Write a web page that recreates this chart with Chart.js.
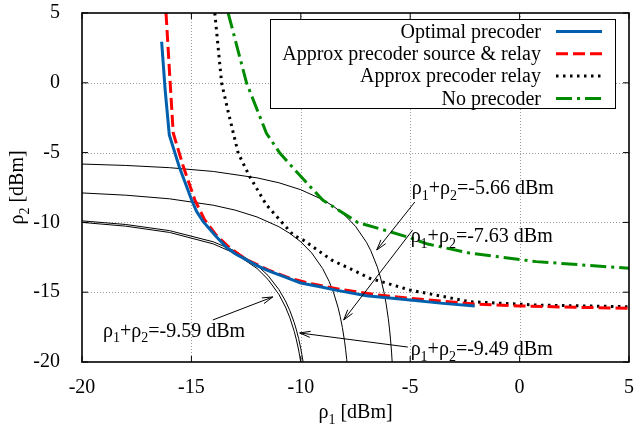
<!DOCTYPE html>
<html><head><meta charset="utf-8">
<script src="https://cdn.jsdelivr.net/npm/chart.js@4/dist/chart.umd.min.js"></script>
<style>html,body{margin:0;padding:0;background:#fff}canvas{display:block}</style>
</head><body>
<canvas id="c" width="637" height="429"></canvas>
<script>
// ---- data ----
const xTicks = [-20, -15, -10, -5, 0, 5];
const yTicks = [-20, -15, -10, -5, 0, 5];

const seriesLabels = ['Optimal precoder', 'Approx precoder source & relay', 'Approx precoder relay', 'No precoder'];

const optX = [-16.36, -16.2, -16.01, -15.56, -14.99, -14.76, -14.46, -13.9, -13.39, -13.0, -12.0, -11.5, -10.5, -10.0, -9.0, -8.4, -7.0, -5.0, -3.5, -2.05];
const optY = [2.94, -0.5, -3.74, -6.0, -8.4, -9.23, -9.95, -10.95, -11.8, -12.25, -13.1, -13.45, -14.05, -14.34, -14.65, -14.85, -15.25, -15.56, -15.8, -15.99];

const srX = [-16.16, -15.99, -15.83, -15.37, -14.84, -14.4, -13.9, -13.3, -12.5, -11.5, -10.5, -9.5, -8.0, -6.5, -5.0, -2.0, 0, 2.5, 5];
const srY = [5, 0.5, -3.6, -6.0, -8.4, -9.8, -10.85, -11.75, -12.65, -13.4, -14.0, -14.4, -14.85, -15.2, -15.44, -15.85, -15.98, -16.08, -16.15];

const relX = [-13.93, -13.62, -13.32, -12.86, -12.33, -11.57, -11.0, -10.35, -9.89, -8.6, -7.5, -6.85, -5.02, -2.28, 0.76, 5];
const relY = [5, 0, -2.07, -5.05, -6.73, -8.75, -9.75, -10.9, -11.26, -12.69, -13.5, -14.0, -14.84, -15.68, -15.92, -16.04];

const noX = [-13.32, -12.48, -11.57, -10.95, -10.12, -9.0, -7.4, -6.3, -5.0, -4.2, -2.28, 0.76, 5];
const noY = [5, 0, -3.62, -5.05, -6.5, -8.4, -10.0, -10.5, -11.1, -11.55, -12.2, -12.81, -13.29];

// iso sum-power curves
const c566X = [-20, -18, -16, -14, -12, -11, -10, -9, -8.5, -8, -7.5, -7, -6.8, -6.5, -6.35, -6.2, -6.1, -6.0, -5.95, -5.9, -5.85, -5.82];
const c566Y = [-5.82, -5.92, -6.08, -6.35, -6.81, -7.16, -7.66, -8.37, -8.85, -9.47, -10.28, -11.42, -12.03, -13.21, -13.99, -14.99, -15.83, -16.9, -17.57, -18.36, -19.35, -20.1];
const c763X = [-20, -18, -16, -14, -13, -12, -11, -10.5, -10, -9.5, -9, -8.7, -8.5, -8.3, -8.2, -8.1, -8.0, -7.95, -7.9, -7.87];
const c763Y = [-7.89, -8.05, -8.31, -8.77, -9.12, -9.61, -10.31, -10.79, -11.39, -12.19, -13.31, -14.24, -15.04, -16.08, -16.73, -17.52, -18.51, -19.12, -19.83, -20.3];
const c949X = [-20, -18, -16, -14, -13, -12, -11.5, -11, -10.7, -10.5, -10.3, -10.2, -10.1, -10.0, -9.95, -9.9, -9.88];
const c949Y = [-9.89, -10.15, -10.59, -11.39, -12.05, -13.07, -13.80, -14.81, -15.63, -16.32, -17.18, -17.71, -18.32, -19.05, -19.47, -19.94, -20.15];
const c959X = [-20, -18, -16, -14, -13, -12, -11.5, -11, -10.7, -10.5, -10.3, -10.2, -10.1, -10.05, -10.0, -9.98];
const c959Y = [-10.0, -10.27, -10.72, -11.54, -12.23, -13.30, -14.08, -15.16, -16.06, -16.83, -17.81, -18.42, -19.14, -19.57, -20.04, -20.25];

const sumLabels = ['ρ_1+ρ_2=-5.66 dBm', 'ρ_1+ρ_2=-7.63 dBm', 'ρ_1+ρ_2=-9.49 dBm', 'ρ_1+ρ_2=-9.59 dBm'];
const xTitle = 'ρ_1 [dBm]';
const yTitle = 'ρ_2 [dBm]';

// ---- layout / annotation placement ----
const labelAt = [[-4.93, -7.97], [-4.98, -11.4], [-4.98, -19.5], [-19.04, -18.2]];
const arrowAt = [[-4.79, -8.54, -6.53, -11.98], [-4.89, -10.55, -8.04, -16.99], [-5.11, -18.93, -10.05, -17.92], [-14.02, -16.99, -11.28, -15.34]];

const FONT = '"Liberation Serif","Times New Roman",Times,serif';
const zip = (xs, ys) => xs.map((x, i) => ({x, y: ys[i]}));

function parseRich(s) {
  const parts = [];
  let buf = '';
  for (let i = 0; i < s.length; i++) {
    if (s[i] === '_' && i + 1 < s.length) {
      if (buf) parts.push([buf, false]);
      buf = '';
      parts.push([s[i + 1], true]);
      i++;
    } else buf += s[i];
  }
  if (buf) parts.push([buf, false]);
  return parts;
}
function drawRich(ctx, s, x, y, size, align) {
  const parts = parseRich(s);
  const subSize = Math.round(size * 0.72);
  const widths = parts.map(p => { ctx.font = (p[1] ? subSize : size) + 'px ' + FONT; return ctx.measureText(p[0]).width; });
  const total = widths.reduce((a, b) => a + b, 0);
  let cx = align === 'center' ? x - total / 2 : (align === 'right' ? x - total : x);
  ctx.textAlign = 'left';
  ctx.textBaseline = 'alphabetic';
  ctx.fillStyle = '#000';
  parts.forEach((p, i) => {
    ctx.font = (p[1] ? subSize : size) + 'px ' + FONT;
    ctx.fillText(p[0], cx, y + (p[1] ? size * 0.28 : 0));
    cx += widths[i];
  });
}

const framePlugin = {
  id: 'frame',
  beforeDatasetsDraw(chart) {
    const {ctx, chartArea: a, scales: {x, y}} = chart;
    ctx.save();
    ctx.strokeStyle = '#9a9a9a';
    ctx.lineWidth = 1;
    ctx.setLineDash([1, 2]);
    xTicks.forEach(v => {
      if (v === x.min || v === x.max) return;
      const px = Math.round(x.getPixelForValue(v)) + 0.5;
      ctx.beginPath(); ctx.moveTo(px, a.top); ctx.lineTo(px, a.bottom); ctx.stroke();
    });
    yTicks.forEach(v => {
      if (v === y.min || v === y.max) return;
      const py = Math.round(y.getPixelForValue(v)) + 0.5;
      ctx.beginPath(); ctx.moveTo(a.left, py); ctx.lineTo(a.right, py); ctx.stroke();
    });
    ctx.restore();
  },
  afterDatasetsDraw(chart) {
    const {ctx, chartArea: a, scales: {x, y}} = chart;
    ctx.save();
    ctx.strokeStyle = '#000';
    ctx.lineWidth = 1.6;
    ctx.setLineDash([]);
    ctx.strokeRect(a.left, a.top, a.right - a.left, a.bottom - a.top);
    ctx.lineWidth = 1;
    const tl = 6;
    xTicks.forEach(v => {
      const px = x.getPixelForValue(v);
      ctx.beginPath();
      ctx.moveTo(px, a.bottom); ctx.lineTo(px, a.bottom - tl);
      ctx.moveTo(px, a.top); ctx.lineTo(px, a.top + tl);
      ctx.stroke();
    });
    yTicks.forEach(v => {
      const py = y.getPixelForValue(v);
      ctx.beginPath();
      ctx.moveTo(a.left, py); ctx.lineTo(a.left + tl, py);
      ctx.moveTo(a.right, py); ctx.lineTo(a.right - tl, py);
      ctx.stroke();
    });
    ctx.lineWidth = 1;
    arrowAt.forEach(([x0, y0, x1, y1]) => {
      const p0x = x.getPixelForValue(x0), p0y = y.getPixelForValue(y0);
      const p1x = x.getPixelForValue(x1), p1y = y.getPixelForValue(y1);
      ctx.beginPath(); ctx.moveTo(p0x, p0y); ctx.lineTo(p1x, p1y); ctx.stroke();
      const ang = Math.atan2(p1y - p0y, p1x - p0x);
      const L = 11, w = 0.28;
      ctx.beginPath();
      ctx.moveTo(p1x - L * Math.cos(ang - w), p1y - L * Math.sin(ang - w));
      ctx.lineTo(p1x, p1y);
      ctx.lineTo(p1x - L * Math.cos(ang + w), p1y - L * Math.sin(ang + w));
      ctx.stroke();
    });
    sumLabels.forEach((s, i) => {
      drawRich(ctx, s, x.getPixelForValue(labelAt[i][0]), y.getPixelForValue(labelAt[i][1]), 20, 'left');
    });
    const lg = {left: 270, top: 19, right: 615, bottom: 108};
    ctx.fillStyle = '#fff';
    ctx.fillRect(lg.left, lg.top, lg.right - lg.left, lg.bottom - lg.top);
    ctx.strokeStyle = '#000';
    ctx.lineWidth = 1;
    ctx.strokeRect(lg.left + 0.5, lg.top + 0.5, lg.right - lg.left, lg.bottom - lg.top);
    chart.data.datasets.slice(0, 4).forEach((ds, i) => {
      const cy = 31.5 + i * 22.3;
      ctx.font = '20px ' + FONT;
      ctx.fillStyle = '#000';
      ctx.textAlign = 'right';
      ctx.textBaseline = 'middle';
      ctx.fillText(ds.label, 541, cy + 1);
      ctx.strokeStyle = ds.borderColor;
      ctx.lineWidth = ds.borderWidth;
      ctx.setLineDash(ds.borderDash || []);
      ctx.beginPath(); ctx.moveTo(556, cy); ctx.lineTo(602, cy); ctx.stroke();
    });
    ctx.setLineDash([]);
    ctx.restore();
  },
  afterDraw(chart) {
    const {ctx, chartArea: a} = chart;
    ctx.save();
    drawRich(ctx, xTitle, (a.left + a.right) / 2, 418, 20, 'center');
    ctx.translate(23, (a.top + a.bottom) / 2);
    ctx.rotate(-Math.PI / 2);
    drawRich(ctx, yTitle, 0, 0, 20, 'center');
    ctx.restore();
  }
};

const thin = (lbl, xs, ys) => ({label: lbl, data: zip(xs, ys), borderColor: '#000', borderWidth: 1, showLine: true, pointRadius: 0, fill: false});

new Chart(document.getElementById('c'), {
  type: 'scatter',
  data: {
    datasets: [
      {label: seriesLabels[0], data: zip(optX, optY), borderColor: '#0060ad', borderWidth: 3, showLine: true, pointRadius: 0},
      {label: seriesLabels[1], data: zip(srX, srY), borderColor: '#ff0000', borderWidth: 3, borderDash: [12, 5], showLine: true, pointRadius: 0},
      {label: seriesLabels[2], data: zip(relX, relY), borderColor: '#000000', borderWidth: 3, borderDash: [2.5, 4.5], showLine: true, pointRadius: 0},
      {label: seriesLabels[3], data: zip(noX, noY), borderColor: '#008a00', borderWidth: 3, borderDash: [16, 5, 3, 5], showLine: true, pointRadius: 0},
      thin('sum -5.66', c566X, c566Y),
      thin('sum -7.63', c763X, c763Y),
      thin('sum -9.49', c949X, c949Y),
      thin('sum -9.59', c959X, c959Y)
    ]
  },
  options: {
    responsive: false,
    animation: false,
    devicePixelRatio: 1,
    layout: {padding: {top: 13, right: 8, left: 0, bottom: 0}},
    plugins: {legend: {display: false}, tooltip: {enabled: false}},
    scales: {
      x: {
        type: 'linear', min: -20, max: 5,
        afterBuildTicks: s => { s.ticks = xTicks.map(v => ({value: v})); },
        afterFit: s => { s.height = 67; s.paddingLeft = 0; s.paddingRight = 0; },
        grid: {display: false}, border: {display: false},
        ticks: {color: '#000', font: {family: FONT, size: 20}, padding: 6, maxRotation: 0, autoSkip: false}
      },
      y: {
        type: 'linear', min: -20, max: 5,
        afterBuildTicks: s => { s.ticks = yTicks.map(v => ({value: v})); },
        afterFit: s => { s.width = 82; s.paddingTop = 0; s.paddingBottom = 0; },
        grid: {display: false}, border: {display: false},
        ticks: {color: '#000', font: {family: FONT, size: 20}, padding: 14, autoSkip: false}
      }
    }
  },
  plugins: [framePlugin]
});
</script>
</body></html>
